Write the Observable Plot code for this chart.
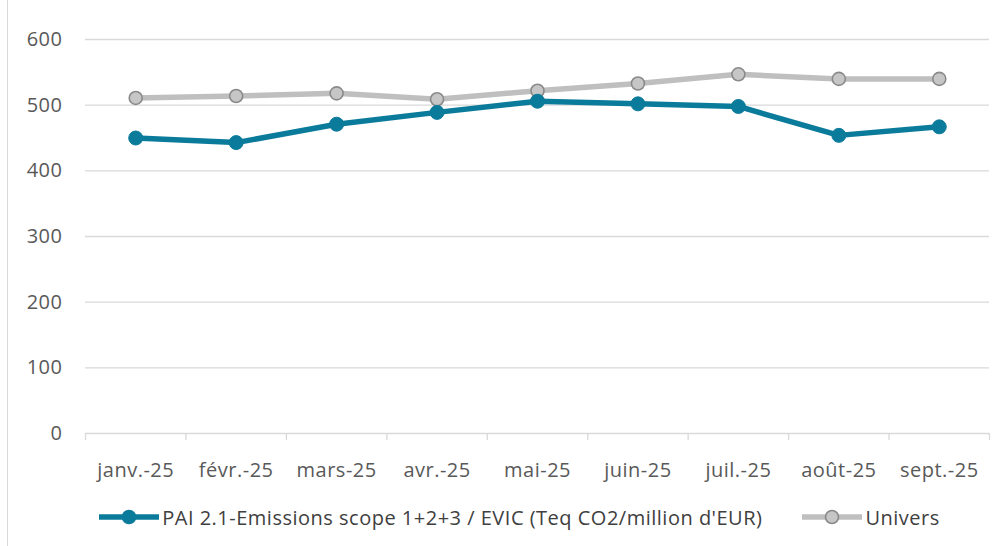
<!DOCTYPE html>
<html>
<head>
<meta charset="utf-8">
<script src="https://cdn.jsdelivr.net/npm/d3@7"></script>
<script src="https://cdn.jsdelivr.net/npm/@observablehq/plot@0.6"></script>
<style>
  html, body { margin: 0; padding: 0; background: #fff; }
  #wrap { position: relative; width: 1007px; height: 546px; overflow: hidden; font-family: "Open Sans", sans-serif; }
  #frame { position: absolute; left: 7px; top: 0; width: 0; height: 546px; border-left: 1.5px solid #d9d9d9; }
  #legend { display: flex; justify-content: center; align-items: center; gap: 40px; font-size: 20px; letter-spacing: 0.5px; color: #404040; height: 30px; margin-top: 17px; padding-left: 32px; }
  .item { display: flex; align-items: center; }
  .item svg { margin-right: 3px; }
  svg text { letter-spacing: 0.5px; }
</style>
</head>
<body>
<div id="wrap">
  <div id="frame"></div>
  <div id="chart"></div>
  <div id="legend"></div>
</div>
<script>
const months = ["janv.-25","févr.-25","mars-25","avr.-25","mai-25","juin-25","juil.-25","août-25","sept.-25"];
const paiValues = [450, 443, 471, 489, 506, 502, 498, 454, 467];
const universValues = [511, 514, 518, 509, 522, 533, 547, 540, 540];
const yTicks = [0, 100, 200, 300, 400, 500, 600];
const seriesNames = ["PAI 2.1-Emissions scope 1+2+3 / EVIC (Teq CO2/million d'EUR)", "Univers"];

const teal = "#0b7b9b";
const grayLine = "#bfbfbf";

const idx = months.map((_, i) => i);
const pai = idx.map(i => ({i, v: paiValues[i]}));
const univ = idx.map(i => ({i, v: universValues[i]}));
const boundaries = d3.range(months.length + 1).map(k => k - 0.5);

const plot = Plot.plot({
  width: 1007,
  height: 485,
  marginLeft: 85,
  marginRight: 18,
  marginTop: 39,
  marginBottom: 52,
  style: { fontFamily: "Open Sans, sans-serif", fontSize: "20px", color: "#595959", background: "transparent" },
  x: { type: "linear", domain: [-0.5, months.length - 0.5] },
  y: { domain: [0, 600] },
  marks: [
    Plot.gridY(yTicks.filter(t => t > 0), { stroke: "#d9d9d9", strokeOpacity: 1, strokeWidth: 1.3 }),
    Plot.axisY({ ticks: yTicks, tickSize: 0, tickPadding: 23, label: null, fontSize: 20, fill: "#595959" }),
    Plot.ruleY([0], { stroke: "#d9d9d9", strokeWidth: 1.3 }),
    Plot.axisX({ ticks: boundaries, tickSize: 7, tickFormat: () => "", stroke: "#d9d9d9", strokeWidth: 1.3, label: null }),
    Plot.axisX({ ticks: idx, tickSize: 0, tickPadding: 29, tickFormat: i => months[i], label: null, fontSize: 20, fill: "#595959" }),
    Plot.line(univ, { x: "i", y: "v", stroke: grayLine, strokeWidth: 5.5 }),
    Plot.dot(univ, { x: "i", y: "v", r: 6.5, fill: "#c6c6c6", stroke: "#8a8a8a", strokeWidth: 1.6 }),
    Plot.line(pai, { x: "i", y: "v", stroke: teal, strokeWidth: 5.5 }),
    Plot.dot(pai, { x: "i", y: "v", r: 7, fill: teal, stroke: teal, strokeWidth: 1 })
  ]
});
document.getElementById("chart").appendChild(plot);

const legend = document.getElementById("legend");
const sw = (line, fill, stroke) => `<svg width="60" height="20"><line x1="0" y1="10" x2="60" y2="10" stroke="${line}" stroke-width="5.5"/><circle cx="30" cy="10" r="6.5" fill="${fill}" stroke="${stroke}" stroke-width="1.6"/></svg>`;
legend.innerHTML =
  `<div class="item">${sw(teal, teal, teal)}<span>${seriesNames[0]}</span></div>` +
  `<div class="item">${sw(grayLine, "#c6c6c6", "#8a8a8a")}<span>${seriesNames[1]}</span></div>`;
</script>
</body>
</html>
